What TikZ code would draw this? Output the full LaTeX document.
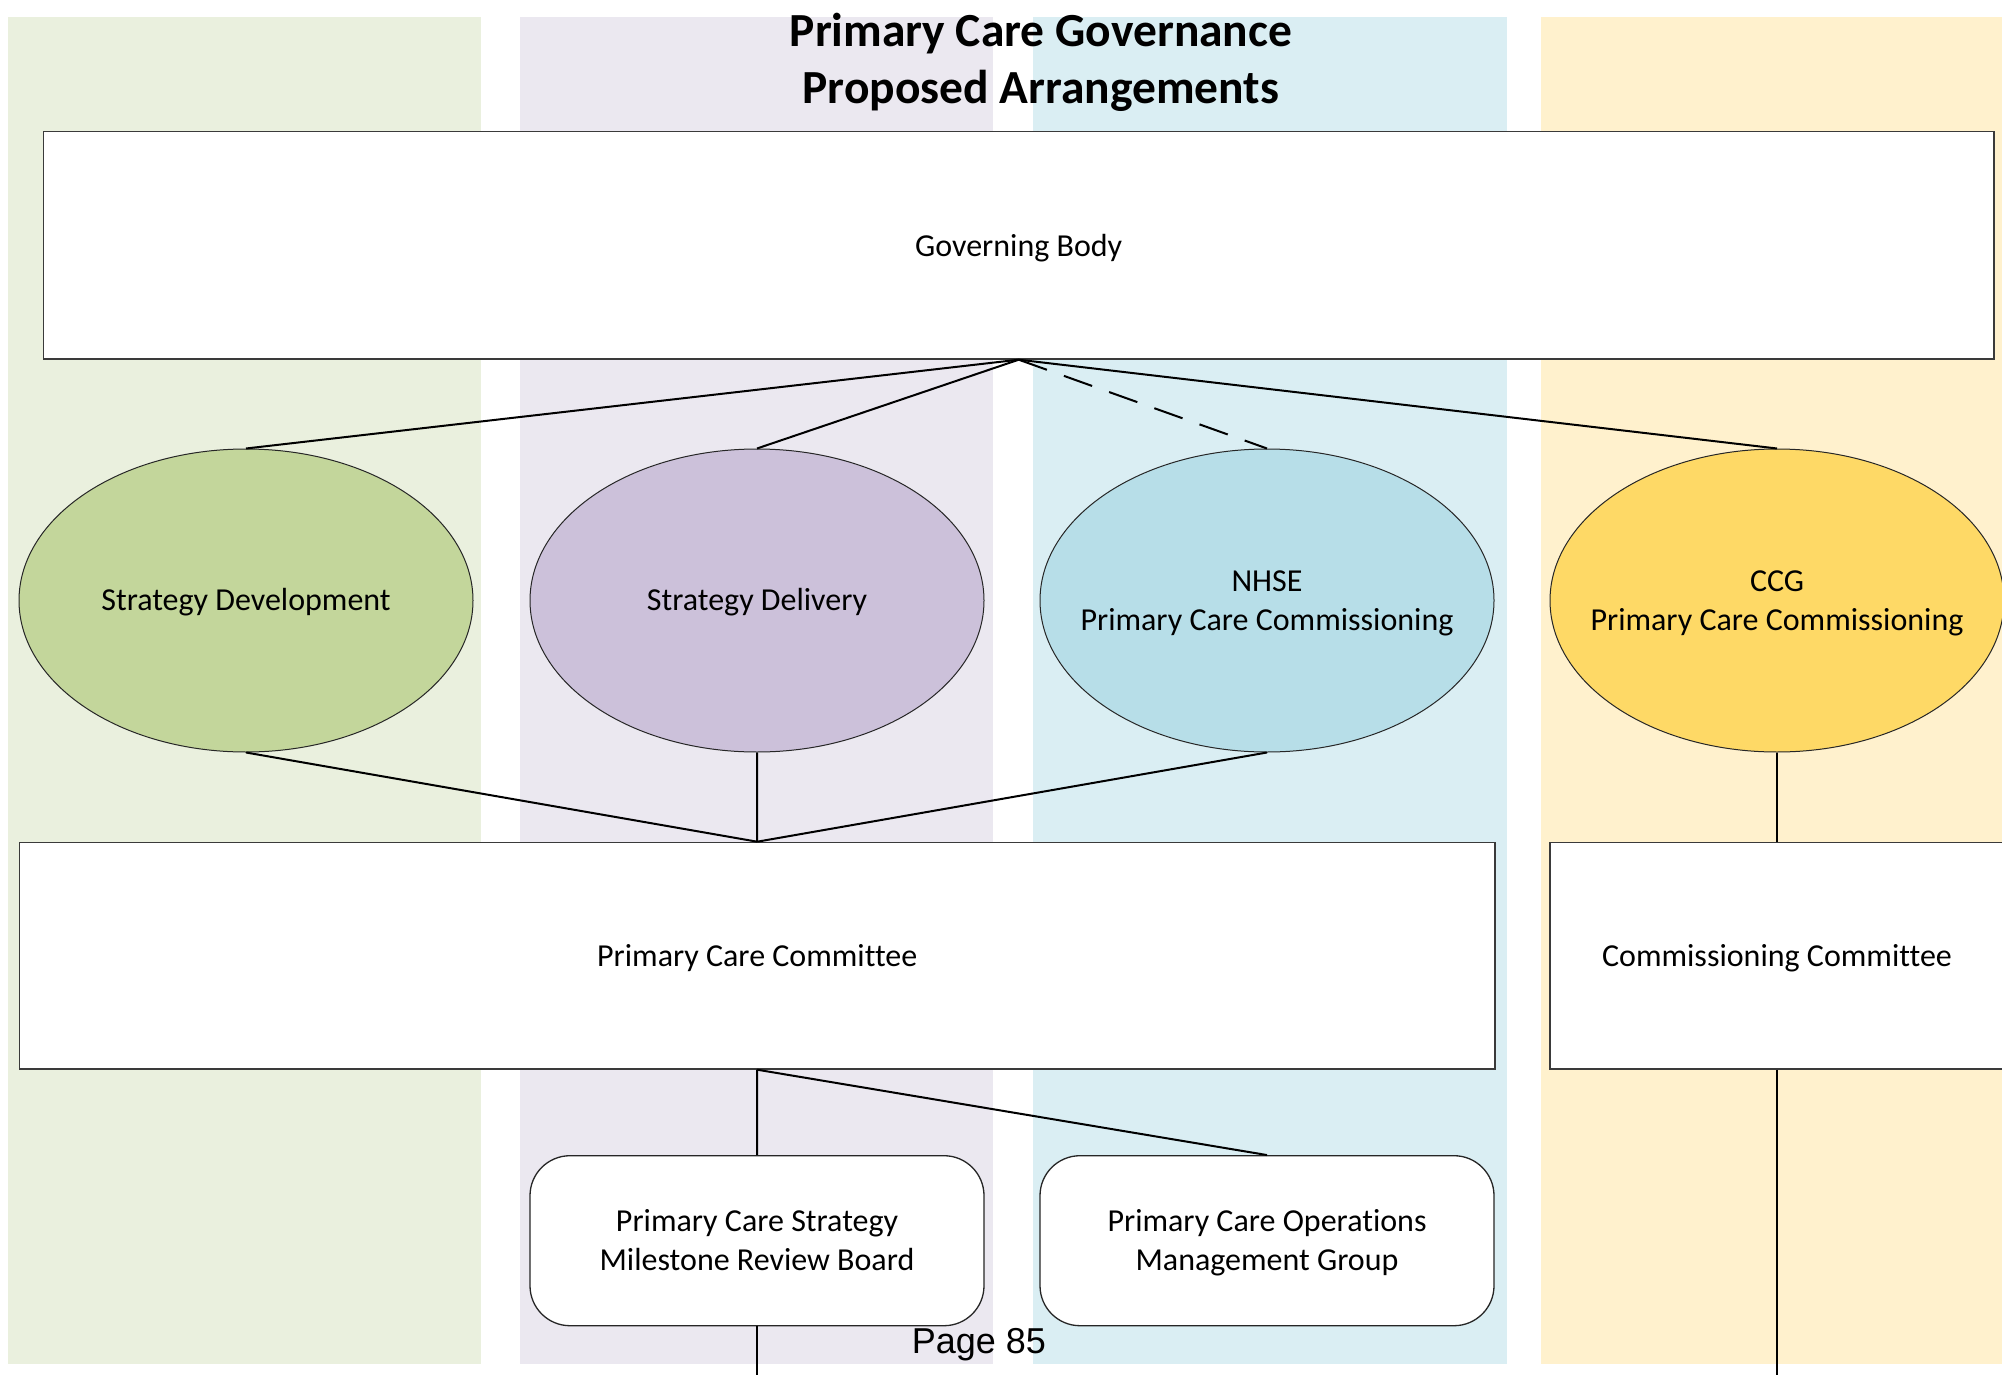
\documentclass[tikz,border=0pt]{standalone}
\usepackage{fontspec}
\setmainfont{Carlito}[Ligatures=NoCommon]
\newfontfamily\pagefont{Liberation Sans}
\usetikzlibrary{shapes.geometric}

% column tints
\definecolor{bandgreen}{HTML}{EAF0DE}
\definecolor{bandpurple}{HTML}{EBE8F0}
\definecolor{bandblue}{HTML}{DAEEF3}
\definecolor{bandyellow}{HTML}{FFF1CD}
% oval fills
\definecolor{ovalgreen}{HTML}{C3D69B}
\definecolor{ovalpurple}{HTML}{CCC1DA}
\definecolor{ovalblue}{HTML}{B7DEE8}
\definecolor{ovalyellow}{HTML}{FED966}
\definecolor{rule}{HTML}{3A3A3A}

% a slightly taller strut for the first line of boxed text
\newcommand\headstrut{\rule{0pt}{33pt}}

\begin{document}
\begin{tikzpicture}[x=1pt,y=-1pt,
  bodytext/.style={font=\fontsize{32}{39}\selectfont, align=center, inner sep=0pt, yshift=-2.5pt},
  titletext/.style={font=\fontsize{47.5}{55}\selectfont\bfseries, inner sep=0pt, anchor=base},
  panel/.style={draw=rule, line width=1.3pt, fill=white, rectangle, inner sep=0pt,
    font=\fontsize{32}{39}\selectfont, align=center},
  oval/.style={draw=black!85, line width=1pt, ellipse, inner sep=0pt,
    minimum width=454pt, minimum height=303pt},
  pill/.style={draw=black!85, line width=1.3pt, fill=white, rectangle, rounded corners=40pt,
    minimum width=454pt, minimum height=170pt, inner sep=0pt,
    font=\fontsize{32}{39}\selectfont, align=center},
  link/.style={draw=black, line width=2pt}]

\useasboundingbox (0,0) rectangle (2002,1375);
\fill[white] (0,0) rectangle (2002,1375);

% coloured columns
\fill[bandgreen]  (7.7,17)  rectangle (481,1363.5);
\fill[bandpurple] (520,17)  rectangle (993,1363.5);
\fill[bandblue]   (1033,17) rectangle (1507,1363.5);
\fill[bandyellow] (1541,17) rectangle (2002,1363.5);

% heading
\node[titletext] (title1) at (1041,47) {Primary Care Governance};
\node[titletext] (title2) at (1041,103.5) {Proposed Arrangements};

% top level
\node[panel, minimum width=1950.6pt, minimum height=227.3pt] (gb) at (1018.7,245.4) {\headstrut Governing Body\strut};

% ovals
\node[oval, fill=ovalgreen]  (sd)  at (246,600.5)  {};
\node[oval, fill=ovalpurple] (sdl) at (757,600.5)  {};
\node[oval, fill=ovalblue]   (nh)  at (1267,600.5) {};
\node[oval, fill=ovalyellow] (ccg) at (1777,600.5) {};
\node[bodytext] (sdtext)  at (sd.center)  {Strategy Development\strut};
\node[bodytext] (sdltext) at (sdl.center) {Strategy Delivery\strut};
\node[bodytext] (nhtext)  at (nh.center)  {NHSE\strut\\Primary Care Commissioning\strut};
\node[bodytext] (ccgtext) at (ccg.center) {CCG\strut\\Primary Care Commissioning\strut};

% committees
\node[panel, minimum width=1475.7pt, minimum height=226.7pt] (pcc) at (757.2,955.7) {\headstrut Primary Care Committee\strut};
\node[panel, minimum width=454pt, minimum height=226.7pt] (cc) at (1777,955.7) {\headstrut Commissioning Committee\strut};

% sub-groups
\node[pill] (msb) at (757,1240.7) {\headstrut Primary Care Strategy\\Milestone Review Board\strut};
\node[pill] (omg) at (1267,1240.7) {\headstrut Primary Care Operations\\Management Group\strut};

% continuation ends at the foot of the page
\coordinate (footA) at (757,1375);
\coordinate (footB) at (1777,1375);

% connectors
\draw[link] (gb.south) -- (sd.north);
\draw[link] (gb.south) -- (sdl.north);
\draw[link, dash pattern=on 30pt off 18pt] (gb.south) -- (nh.north);
\draw[link] (gb.south) -- (ccg.north);

\draw[link] (sd.south)  -- (pcc.north);
\draw[link] (sdl.south) -- (pcc.north);
\draw[link] (nh.south)  -- (pcc.north);
\draw[link] (ccg.south) -- (cc.north);

\draw[link] (pcc.south) -- (msb.north);
\draw[link] (pcc.south) -- (omg.north);
\draw[link] (msb.south) -- (footA);
\draw[link] (cc.south)  -- (footB);

% page number
\node[font=\pagefont\fontsize{36}{40}\selectfont, anchor=base, inner sep=0pt] (pageno) at (979,1353) {Page 85};
\end{tikzpicture}
\end{document}
